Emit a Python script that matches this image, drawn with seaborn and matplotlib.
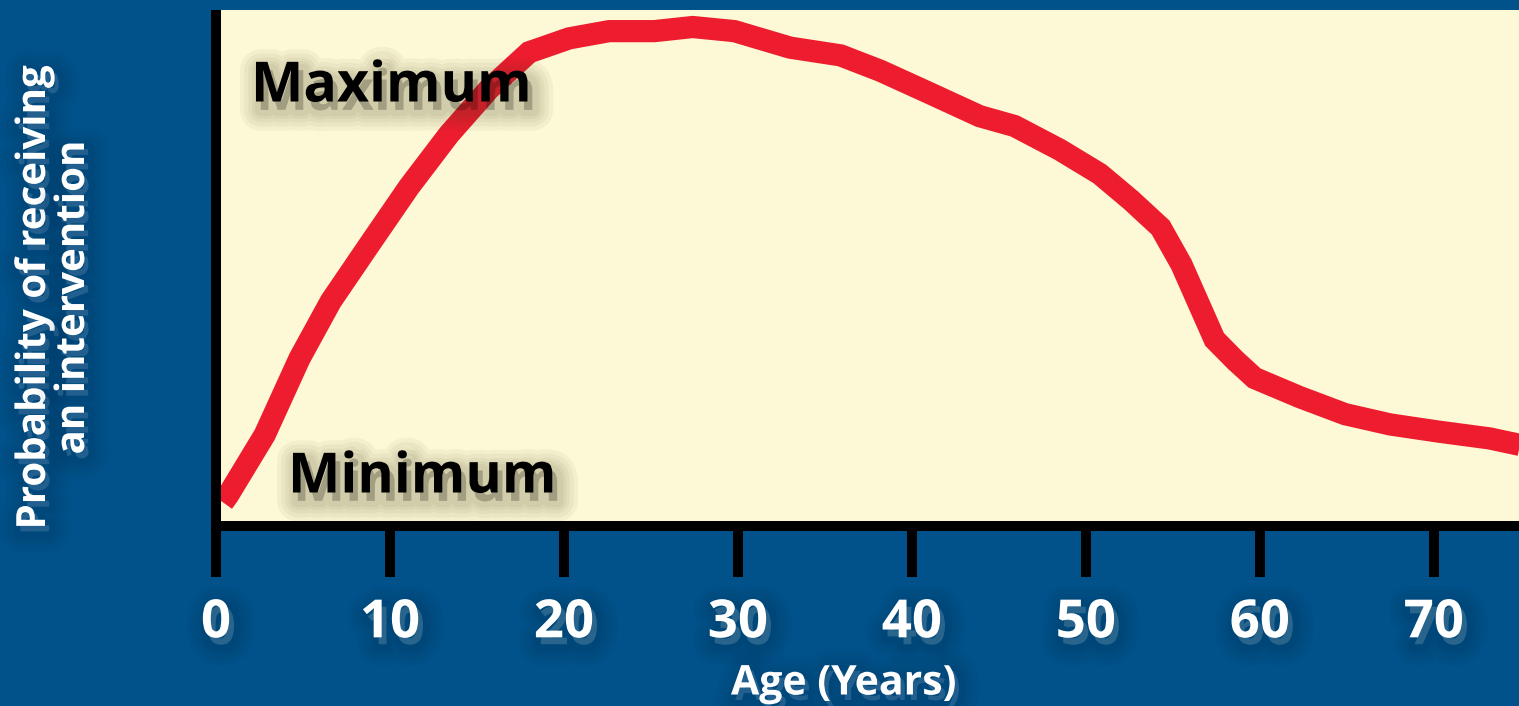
import matplotlib
matplotlib.use("Agg")
import matplotlib.pyplot as plt
import matplotlib.patheffects as pe
import seaborn as sns
import pandas as pd

# Data (age in years, probability on a 0-100 scale)
ages = [0.4, 0.7, 2.8, 4.8, 6.6, 8.9, 11.1, 13.4, 15.7, 18.0, 20.3, 22.6, 25.2,
        27.4, 29.8, 33.0, 35.9, 38.2, 41.0, 43.9, 45.9, 48.5, 50.8, 52.6, 54.3,
        55.5, 56.6, 57.4, 58.6, 59.7, 62.3, 64.9, 67.5, 70.3, 73.2, 75.0]
probability = [4.5, 5.9, 17.6, 32.4, 43.5, 54.9, 65.7, 75.9, 84.7, 91.8, 94.5,
               95.9, 95.9, 96.7, 95.9, 92.7, 91.2, 88.2, 83.9, 79.4, 77.5, 72.9,
               68.2, 63.1, 57.8, 50.6, 42.2, 36.1, 32.0, 28.6, 24.9, 21.6, 19.6,
               18.2, 16.9, 15.6]
tick_values = [0, 10, 20, 30, 40, 50, 60, 70]
tick_labels = ["0", "10", "20", "30", "40", "50", "60", "70"]
x_label = "Age (Years)"
y_label = "Probability of receiving\nan intervention"
max_label = "Maximum"
min_label = "Minimum"

BLUE = "#01528a"
YELLOW = "#fdf9d6"
RED = "#ed1c2e"

sns.set_style("white")
plt.rcParams["font.family"] = ["Open Sans", "DejaVu Sans"]

df = pd.DataFrame({"age": ages, "prob": probability})

W, H = 1519, 706
fig = plt.figure(figsize=(W / 100, H / 100), dpi=100, facecolor=BLUE)
ax_left = 216 / W
ax_bottom = (H - 525.5) / H
ax_top = (H - 10) / H
ax = fig.add_axes([ax_left, ax_bottom, 1.0 - ax_left, ax_top - ax_bottom])
ax.set_facecolor(YELLOW)

sns.lineplot(data=df, x="age", y="prob", ax=ax, color=RED, linewidth=16,
             solid_capstyle="butt", solid_joinstyle="miter", zorder=3,
             clip_on=True)

ax.set_xlim(0, 74.9)
ax.set_ylim(0, 100)

for side in ["top", "right"]:
    ax.spines[side].set_visible(False)
for side in ["left", "bottom"]:
    ax.spines[side].set_color("black")
    ax.spines[side].set_linewidth(7.2)
    ax.spines[side].set_zorder(5)
ax.spines["left"].set_capstyle("butt")

ax.set_yticks([])
ax.set_xticks(tick_values)
ax.set_xticklabels(tick_labels)
ax.tick_params(axis="x", which="major", bottom=True, direction="out",
               length=37, width=7.2, color="black",
               pad=14, labelsize=38, labelcolor="white")
ax.set_xlabel("")
ax.set_ylabel("")


def blur_shadow(color, offset, alpha, widths=(30, 24, 18, 13, 9)):
    effects = []
    for w in widths:
        effects.append(pe.Stroke(offset=offset, linewidth=w, foreground=color,
                                 alpha=alpha))
    effects.append(pe.Normal())
    return effects


for lab in ax.get_xticklabels():
    lab.set_fontweight("bold")
    lab.set_path_effects(blur_shadow("#00233f", (3.5, -5), 0.045))

fig.text(844 / W, (H - 684) / H, x_label,
         color="white", fontsize=29.5, fontweight="bold", ha="center",
         va="center", path_effects=blur_shadow("#00233f", (3, -4), 0.035))

fig.text(54 / W, (H - 298) / H, y_label, color="white", fontsize=29,
         fontweight="bold", ha="center", va="center", rotation=90,
         multialignment="center", linespacing=1.0,
         path_effects=blur_shadow("#00233f", (3, -4), 0.035))

ax.text(251 / W, (H - 87) / H, max_label, transform=fig.transFigure,
        color="black", fontsize=40, fontweight="bold", ha="left", va="center",
        zorder=6, path_effects=blur_shadow("#4a4020", (3.5, -6), 0.05))
ax.text(288 / W, (H - 478) / H, min_label, transform=fig.transFigure,
        color="black", fontsize=40, fontweight="bold", ha="left", va="center",
        zorder=6, path_effects=blur_shadow("#4a4020", (3.5, -6), 0.05))

fig.savefig("out.png", dpi=100, facecolor=BLUE)
